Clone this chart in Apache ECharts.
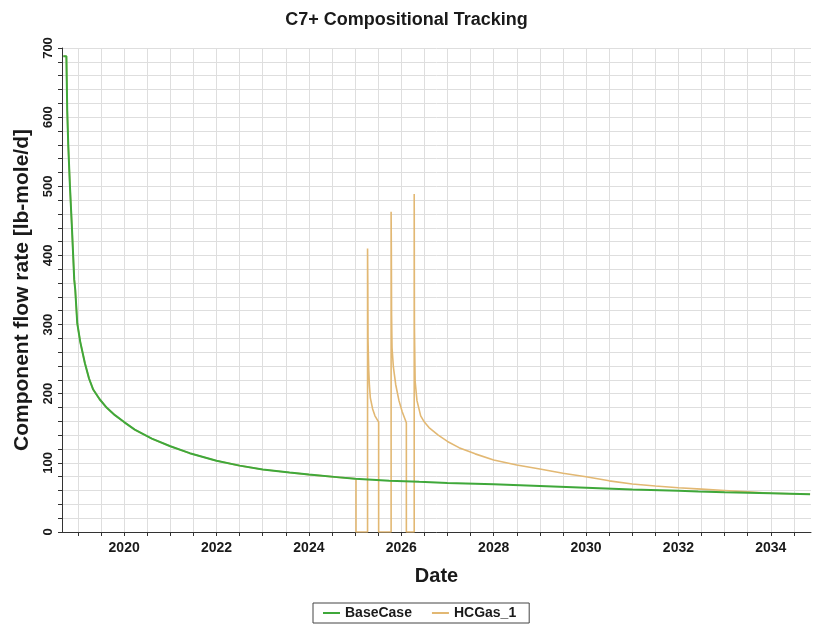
<!DOCTYPE html>
<html>
<head>
<meta charset="utf-8">
<script src="https://cdn.jsdelivr.net/npm/echarts@6/dist/echarts.min.js"></script>
<style>
  html, body { margin: 0; padding: 0; background: #ffffff; }
  #chart { width: 813px; height: 628px; }
</style>
</head>
<body>
<div id="chart"></div>
<script>
// Decimal-year time stamps and component flow rates [lb-mole/d]
const baseYears = [
  2018.683, 2018.750, 2018.768, 2018.790, 2018.827, 2018.870, 2018.920, 2018.942,
  2018.985, 2019.050, 2019.151, 2019.240, 2019.330, 2019.470, 2019.620, 2019.800,
  2020.000, 2020.230, 2020.600, 2021.000, 2021.420, 2022.000, 2022.500, 2023.000,
  2023.580, 2024.000, 2024.660, 2025.000, 2025.740, 2026.390, 2027.000, 2028.000,
  2029.000, 2030.000, 2030.280, 2031.000, 2032.000, 2032.430, 2033.000, 2034.000,
  2034.850
];
const baseValues = [
  688, 688, 610, 560, 500, 440, 365, 350,
  302, 275, 244, 222, 206, 192, 180, 169,
  159, 148, 135, 124, 114, 103, 96, 90.5,
  86, 83, 79, 77, 74.3, 72.5, 71, 69,
  66.5, 64, 63.3, 61.5, 59.5, 58.5, 57.5, 56,
  54.6
];

const gasYears = [
  2018.683, 2018.750, 2018.768, 2018.790, 2018.827, 2018.870, 2018.920, 2018.942,
  2018.985, 2019.050, 2019.151, 2019.240, 2019.330, 2019.470, 2019.620, 2019.800,
  2020.000, 2020.230, 2020.600, 2021.000, 2021.420, 2022.000, 2022.500, 2023.000,
  2023.580, 2024.000, 2024.660,
  2025.020, 2025.020, 2025.270, 2025.270, 2025.275, 2025.280, 2025.295, 2025.310,
  2025.330, 2025.380, 2025.430, 2025.510, 2025.510,
  2025.780, 2025.780, 2025.785, 2025.790, 2025.800, 2025.830, 2025.880, 2025.950,
  2026.020, 2026.110, 2026.110,
  2026.280, 2026.280, 2026.285, 2026.300, 2026.340, 2026.420, 2026.500, 2026.600,
  2026.800, 2027.000, 2027.250, 2027.600, 2028.000, 2028.500, 2029.000, 2029.500,
  2030.000, 2030.500, 2031.000, 2031.500, 2032.000, 2032.500, 2033.000, 2033.500,
  2034.000, 2034.850
];
const gasValues = [
  688, 688, 610, 560, 500, 440, 365, 350,
  302, 275, 244, 222, 206, 192, 180, 169,
  159, 148, 135, 124, 114, 103, 96, 90.5,
  86, 83, 79,
  77, 0, 0, 410, 363, 278, 235, 212,
  194, 178, 168, 159, 0,
  0, 463, 409, 314, 266, 238, 213, 190,
  174, 158, 0,
  0, 489, 295, 218, 190, 168, 159, 151,
  140, 131, 122, 113, 104, 97, 91, 85,
  80, 74, 69.5, 66.5, 64, 62, 60, 58,
  56, 54.6
];

const seriesNames = ['BaseCase', 'HCGas_1'];
const yearLabels = [2020, 2022, 2024, 2026, 2028, 2030, 2032, 2034];
const halfYearTicks = [
  2019, 2019.5, 2020, 2020.5, 2021, 2021.5, 2022, 2022.5, 2023, 2023.5,
  2024, 2024.5, 2025, 2025.5, 2026, 2026.5, 2027, 2027.5, 2028, 2028.5,
  2029, 2029.5, 2030, 2030.5, 2031, 2031.5, 2032, 2032.5, 2033, 2033.5,
  2034, 2034.5
];

const pairs = (xs, ys) => xs.map((x, i) => [x, ys[i]]);

const FONT = '"Liberation Sans", Arial, sans-serif';
const TEXT = '#1a1a1a';
const chart = echarts.init(document.getElementById('chart'), null, { renderer: 'canvas' });

chart.setOption({
  animation: false,
  backgroundColor: '#ffffff',
  title: {
    text: 'C7+ Compositional Tracking',
    left: 'center',
    top: 6,
    textStyle: { fontFamily: FONT, fontSize: 18, fontWeight: 'bold', color: TEXT }
  },
  grid: { left: 62, right: 2, top: 48, bottom: 96, outerBoundsMode: 'none' },
  legend: {
    data: seriesNames,
    bottom: 5,
    left: 313,
    orient: 'horizontal',
    borderColor: '#444',
    borderWidth: 1,
    borderRadius: 0,
    padding: [3, 13, 3, 10],
    itemGap: 20,
    itemWidth: 17,
    itemHeight: 2,
    icon: 'rect',
    textStyle: { fontFamily: FONT, fontSize: 14, fontWeight: 'bold', color: TEXT }
  },
  xAxis: {
    type: 'value',
    min: 2018.655,
    max: 2034.87,
    name: 'Date',
    nameLocation: 'middle',
    nameGap: 34,
    nameTextStyle: { fontFamily: FONT, fontSize: 20, fontWeight: 'bold', color: TEXT },
    axisLine: { show: true, lineStyle: { color: '#333', width: 1 } },
    axisTick: { show: true, length: 4, customValues: halfYearTicks, lineStyle: { color: '#333' } },
    axisLabel: {
      customValues: yearLabels,
      formatter: v => String(Math.round(v)),
      margin: 9,
      fontFamily: FONT, fontSize: 14, fontWeight: 'bold', color: TEXT
    },
    splitLine: { show: true, lineStyle: { color: '#dedede', width: 1 } }
  },
  yAxis: {
    type: 'value',
    min: 0,
    max: 700,
    interval: 20,
    name: 'Component flow rate [lb-mole/d]',
    nameLocation: 'middle',
    nameGap: 29,
    nameTextStyle: { fontFamily: FONT, fontSize: 21, fontWeight: 'bold', color: TEXT },
    axisLine: { show: true, lineStyle: { color: '#333', width: 1 } },
    axisTick: { show: true, length: 4, lineStyle: { color: '#333' } },
    axisLabel: {
      rotate: 90,
      margin: 7,
      formatter: v => (v % 100 === 0 ? String(v) : ''),
      fontFamily: FONT, fontSize: 13, fontWeight: 'bold', color: TEXT
    },
    splitLine: { show: true, lineStyle: { color: '#dedede', width: 1 } }
  },
  series: [
    {
      name: 'HCGas_1',
      type: 'line',
      data: pairs(gasYears, gasValues),
      showSymbol: false,
      symbol: 'none',
      color: '#e2b873',
      lineStyle: { color: '#e2b873', width: 1.6 },
      z: 2
    },
    {
      name: 'BaseCase',
      type: 'line',
      data: pairs(baseYears, baseValues),
      showSymbol: false,
      symbol: 'none',
      color: '#3fa83a',
      lineStyle: { color: '#3fa83a', width: 2 },
      z: 3
    }
  ]
});
</script>
</body>
</html>
